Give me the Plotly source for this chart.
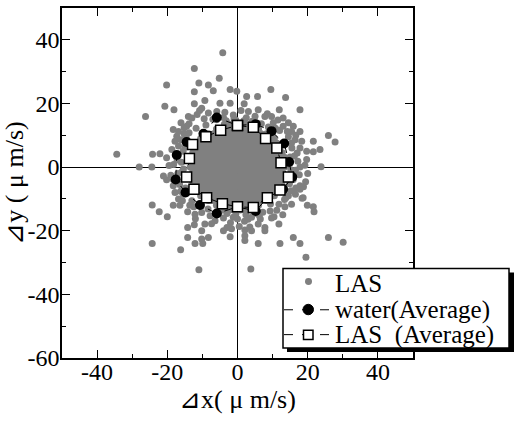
import plotly.graph_objects as go

# ---------------- data ----------------
# dense core of LAS points, rows of (y, x-values)
E19 = [-13.5, -12, -10.5, -9, -7.5, -6, -4.5, -3, -1.5, 0, 1.5, 3, 4.5, 6, 7.5, 9, 10.5, 12, 13.5]
E17 = [-12, -10.5, -9, -7.5, -6, -4.5, -3, -1.5, 0, 1.5, 3, 4.5, 6, 7.5, 9, 10.5, 12]
E15 = [-10.5, -9, -7.5, -6, -4.5, -3, -1.5, 0, 1.5, 3, 4.5, 6, 7.5, 9, 10.5]
E9 = [-6, -4.5, -3, -1.5, 0, 1.5, 3, 4.5, 6]
O18 = [-12.75, -11.25, -9.75, -8.25, -6.75, -5.25, -3.75, -2.25, -0.75,
       0.75, 2.25, 3.75, 5.25, 6.75, 8.25, 9.75, 11.25, 12.75]
O16 = [-11.25, -9.75, -8.25, -6.75, -5.25, -3.75, -2.25, -0.75,
       0.75, 2.25, 3.75, 5.25, 6.75, 8.25, 9.75, 11.25]
O12 = [-8.25, -6.75, -5.25, -3.75, -2.25, -0.75, 0.75, 2.25, 3.75, 5.25, 6.75, 8.25]
O6 = [-3.75, -2.25, -0.75, 0.75, 2.25, 3.75]
core_rows = [
    (13.5, O6), (12, E9), (10.5, O12), (9, E15), (7.5, O16), (6, E17),
    (4.5, O18), (3, E19), (1.5, O18), (0, E19), (-1.5, O18), (-3, E19),
    (-4.5, O18), (-6, E17), (-7.5, O16), (-9, E15), (-10.5, O12), (-12, E9), (-13.5, O6),
]

# scattered LAS points around the core
fringe_x = [
    -4.2, -12.3, -5.2, -11.0, -8.3, -20.2, -12.3, -6.9, -2.1, -0.2, 2.6, 5.7, 9.5, 13.7,
    -20.7, -18.1, -12.3, -9.3, -10.2, -5.0, -2.1, 1.9, -8.3, -5.9, -3.6, -1.2, 1.0, 3.1,
    5.9, 7.8, 9.7, 11.9, 13.0, 17.8, -26.2, -14.0, -13.0, -11.5, -9.5, -7.0, -4.0, -1.0,
    2.5, 5.0, 10.2, 14.5, 15.9, 13.0, 15.4, 17.8, 16.4, 18.3, 21.6, 25.9, 27.8, 17.8,
    19.7, 21.6, 23.5, 19.7, 23.8, 17.8, 16.2, 15.5, 14.5, 12.0,
    -16.1, -14.5, -18.3, -17.3, -17.8, -16.1, -15.2, -18.7, -15.5, -20.2, -16.0, -19.5,
    -22.1, -24.2, -34.4, -24.4, -28.0, -15.8, -21.1, -18.3, -20.2, -16.5, -18.3, -17.8,
    -15.5, -15.7, -16.4, -18.3, -24.3, -22.3, -20.0, -14.2, -12.5,
    -12.1, -10.2, -7.8, -6.4, -4.0, -2.0, 0.0, 2.0, 4.0, 6.5, 0.5, -3.0, 3.5, 5.9, -4.0,
    -2.1, -1.7, -9.3, -12.3, -14.2, -10.2, -14.2, -12.1, -10.2, -9.9, -8.3, -24.3, -16.2,
    -11.0, 3.8, 4.0, 2.1, 2.1, 2.1, 5.9, 7.8, 7.8, 9.7, 11.8, 12.9, 11.8, 9.3, 12.1, 15.9,
    17.8, 19.5, 25.9, 30.1,
    15.4, 19.9, 21.8, 21.6, 18.7, 17.8, 17.8, 19.4, 15.9, 16.5, 14.5, 16.5, 20.0, 13.5,
    -11.8, -9.0, -6.0, -3.2, -0.5, 1.8, 4.2, 6.8, 8.8, 10.8, 11.5, 8.5, -10.8, -13.8,
    -15.2, -16.8, -14.6, -13.8, -16.8, -17.2, -18.2, -17.0, -19.0, -15.4, -13.6, -14.9,
    14.2, 16.6, 15.4, 17.0, 15.0, 17.2, 15.2, 17.6, 14.8, 16.6, 15.2, 18.8, 19.2, 13.8,
    13.4, 11.2, 9.4, 7.2, 4.8, 2.4, -0.5, -3.0, -5.2, -8.4, -10.4, -13.0, -14.8, -16.2,
    -7.4, -1.2, 3.0, 6.2, 10.4, -12.0, -16.8, 18.4,
]
fringe_y = [
    35.9, 31.0, 27.9, 26.4, 25.8, 25.8, 23.7, 24.0, 24.4, 23.8, 22.2, 22.2, 24.4, 21.9,
    19.1, 18.0, 19.9, 20.9, 18.5, 20.1, 20.1, 19.9, 17.0, 17.5, 17.2, 16.4, 17.8, 17.5,
    18.0, 15.9, 15.9, 18.0, 15.4, 18.0, 15.9, 15.9, 15.4, 16.5, 15.2, 15.0, 15.6, 15.2,
    15.5, 16.0, 13.9, 13.9, 12.8, 12.8, 11.2, 11.2, 8.6, 8.1, 8.1, 9.9, 7.9, 6.0,
    5.0, 4.8, 5.5, 2.4, 0.1, 0.0, 3.5, 6.0, 9.5, 11.5,
    13.9, 12.8, 11.8, 9.7, 8.1, 8.6, 10.5, 5.5, 5.0, 2.9, 1.5, 0.5,
    4.2, 4.0, 4.0, 0.0, 0.0, -1.5, -2.8, -3.9, -4.0, -5.5, -5.9, -8.0,
    -8.5, -10.6, -12.0, -12.0, -11.9, -14.0, -15.6, -14.0, -12.5,
    -14.8, -14.3, -15.3, -16.9, -16.0, -17.5, -16.3, -17.0, -15.8, -16.3, -18.7, -19.0, -18.8, -17.9, -20.0,
    -21.9, -19.4, -17.9, -18.1, -19.0, -20.0, -22.1, -24.0, -22.6, -24.0, -22.1, -24.0, -26.0,
    -32.3, -32.0, -20.0, -19.8, -21.6, -23.1, -24.0, -19.0, -20.0, -16.0, -17.9, -15.0, -11.7, -13.8, -24.0, -22.1,
    -24.0, -28.3, -22.1, -23.6,
    -11.7, -12.0, -14.0, -12.5, -9.6, -7.0, -5.9, -4.6, -3.9, -1.0, -9.0, -8.5, -2.0, -12.5,
    12.2, 13.2, 14.9, 14.6, 14.8, 14.6, 14.4, 13.6, 12.6, 12.2, 14.8, 16.8, 17.8, 13.6,
    12.4, 11.2, 9.2, 10.8, 6.6, 2.2, 0.8, -2.0, -2.6, -0.6, -12.0, 6.2,
    11.2, 10.0, 7.6, 4.4, 3.2, 1.8, -0.8, -2.4, -5.2, -6.6, -7.4, -6.2, 0.6, -9.6,
    -10.2, -13.6, -11.6, -14.2, -14.6, -15.0, -14.8, -14.6, -14.2, -13.2, -12.4, -10.6, -6.6, -7.6,
    -17.8, -15.8, -16.4, -15.2, -15.6, -16.2, -10.0, -9.8,
]

# averaged trajectories (closed loops)
water_x = [0.0, 5.2, 9.7, 13.3, 14.7, 15.6, 13.0, 8.5, 5.2, 0.0, -5.9, -10.7, -14.8, -17.6, -17.3, -14.5, -9.7, -5.9, 0.0]
water_y = [13.1, 13.5, 11.3, 7.4, 1.6, -3.1, -7.0, -9.6, -13.8, -12.5, -14.6, -11.9, -8.0, -3.9, 3.8, 7.9, 10.5, 15.6, 13.1]
las_avg_x = [0.0, 4.5, 8.0, 11.2, 12.4, 14.5, 12.1, 8.5, 4.5, 0.0, -4.3, -8.8, -12.4, -14.5, -13.7, -12.8, -9.0, -4.8, 0.0]
las_avg_y = [13.1, 12.5, 9.0, 6.0, 1.4, -3.1, -7.2, -9.6, -12.7, -12.5, -11.5, -9.6, -7.0, -3.1, 2.7, 7.1, 9.5, 11.6, 13.1]

x_ticks = [-40, -20, 0, 20, 40]
x_ticktext = ["-40", "-20", "0", "20", "40"]
y_ticks = [-60, -40, -20, 0, 20, 40]
y_ticktext = ["-60", "-40", "-20", "0", "20", "40"]

series_names = ["LAS", "water(Average)", "LAS\u00a0 (Average)"]

# ---------------- figure ----------------
las_x, las_y = [], []
for yv, xs in core_rows:
    for xv in xs:
        las_x.append(xv)
        las_y.append(yv)
las_x += fringe_x
las_y += fringe_y

FONT = "Liberation Serif"
GRAY = "#808080"

# plot area in pixels (for placing the boxed legend)
L, R, T, B = 62, 413, 6, 358
def px(x):
    return (x - L) / (R - L)
def py(y):
    return (B - y) / (B - T)

fig = go.Figure()
fig.add_trace(go.Scatter(
    x=las_x, y=las_y, mode="markers", name=series_names[0],
    marker=dict(color=GRAY, size=7, line=dict(width=0)),
))
fig.add_trace(go.Scatter(
    x=water_x, y=water_y, mode="lines+markers", name=series_names[1],
    line=dict(color="black", width=1, dash="dash"),
    marker=dict(color="black", size=10, symbol="circle"),
))
fig.add_trace(go.Scatter(
    x=las_avg_x, y=las_avg_y, mode="lines+markers", name=series_names[2],
    line=dict(color="black", width=1, dash="dash"),
    marker=dict(color="white", size=10, symbol="square", line=dict(color="black", width=1.5)),
))

axis_common = dict(
    showgrid=False, showline=True, linecolor="black", linewidth=1.5, mirror="allticks",
    ticks="inside", ticklen=8, tickwidth=1, tickcolor="black",
    zeroline=True, zerolinecolor="black", zerolinewidth=1,
    tickfont=dict(family=FONT, size=24, color="black"),
    minor=dict(ticks="inside", ticklen=4, tickwidth=1, tickcolor="black", dtick=10, showgrid=False),
)

# boxed legend with drop shadow (drawn as layout decoration)
shapes = [
    dict(type="rect", xref="paper", yref="paper", layer="above",
         x0=px(287), x1=px(514), y0=py(352), y1=py(272),
         fillcolor="black", line=dict(width=0)),
    dict(type="rect", xref="paper", yref="paper", layer="above",
         x0=px(283), x1=px(509), y0=py(348), y1=py(268),
         fillcolor="white", line=dict(color="black", width=1.5)),
    # LAS entry symbol
    dict(type="circle", xref="paper", yref="paper", layer="above",
         x0=px(305), x1=px(312), y0=py(284.5), y1=py(277.5),
         fillcolor=GRAY, line=dict(width=0)),
    # water entry: dashed line + filled circle
    dict(type="line", xref="paper", yref="paper", layer="above",
         x0=px(284), x1=px(334), y0=py(309.5), y1=py(309.5),
         line=dict(color="black", width=1, dash="dash")),
    dict(type="circle", xref="paper", yref="paper", layer="above",
         x0=px(303), x1=px(313.5), y0=py(314.5), y1=py(304),
         fillcolor="black", line=dict(color="black", width=1)),
    # LAS average entry: dashed line + open square
    dict(type="line", xref="paper", yref="paper", layer="above",
         x0=px(284), x1=px(334), y0=py(334.5), y1=py(334.5),
         line=dict(color="black", width=1, dash="dash")),
    dict(type="rect", xref="paper", yref="paper", layer="above",
         x0=px(303.5), x1=px(313), y0=py(339.5), y1=py(330),
         fillcolor="white", line=dict(color="black", width=1.5)),
]
legend_rows = [283.5, 309.5, 334.5]
annotations = [
    dict(text=name, xref="paper", yref="paper", x=px(333), y=py(yy),
         xanchor="left", yanchor="middle", showarrow=False,
         font=dict(family=FONT, size=25, color="black"))
    for name, yy in zip(series_names, legend_rows)
]

fig.update_layout(
    width=514, height=424,
    margin=dict(l=L, r=514 - R, t=T, b=424 - B),
    paper_bgcolor="white", plot_bgcolor="white",
    showlegend=False,
    xaxis=dict(range=[-50, 50], tickvals=x_ticks, ticktext=x_ticktext, ticklabelstandoff=-9,
               title=dict(text="⊿x( μ m/s)", font=dict(family=FONT, size=26, color="black"), standoff=0),
               **axis_common),
    yaxis=dict(range=[-60, 50], tickvals=y_ticks, ticktext=y_ticktext, ticklabelstandoff=-4,
               title=dict(text="⊿y ( μ m/s)", font=dict(family=FONT, size=26, color="black"), standoff=0),
               **axis_common),
    shapes=shapes,
    annotations=annotations,
)

fig.write_html("out.html")
